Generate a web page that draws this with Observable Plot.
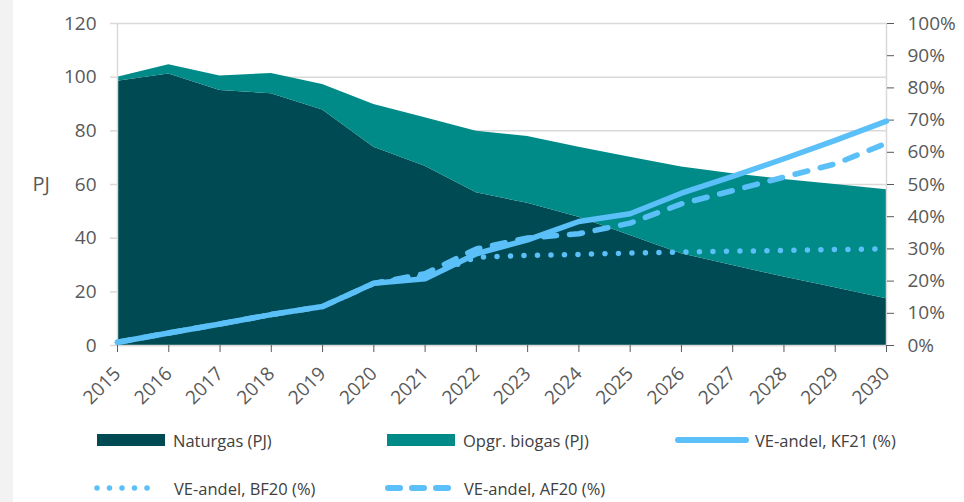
<!DOCTYPE html>
<html>
<head>
<meta charset="utf-8">
<script src="https://cdn.jsdelivr.net/npm/d3@7"></script>
<script src="https://cdn.jsdelivr.net/npm/@observablehq/plot@0.6"></script>
<style>
  html, body { margin: 0; padding: 0; background: #ffffff; }
  #wrap { position: relative; width: 964px; height: 502px; overflow: hidden; font-family: "Open Sans", "Noto Sans", sans-serif; color: #595959; }
  #strip { position: absolute; left: 0; top: 0; width: 13px; height: 502px; background: #f2f2f2; }
  #chart { position: absolute; left: 0; top: 0; }
  .leg { position: absolute; display: flex; align-items: center; font-size: 16.5px; color: #404040; white-space: nowrap; }
  .leg svg { display: block; margin-right: 6px; }
</style>
</head>
<body>
<div id="wrap">
  <div id="strip"></div>
  <div id="chart"></div>
  <div id="legend"></div>
</div>
<script>
const years = [2015, 2016, 2017, 2018, 2019, 2020, 2021, 2022, 2023, 2024, 2025, 2026, 2027, 2028, 2029, 2030];
const naturgas = [98.5, 101.2, 95.0, 93.8, 87.8, 73.9, 66.8, 56.9, 53.0, 47.8, 41.0, 34.2, 29.8, 25.5, 21.5, 17.4];
const biogas   = [1.5, 3.4, 5.4, 7.6, 9.5, 15.9, 18.1, 22.9, 24.9, 26.1, 29.2, 32.3, 34.2, 36.4, 38.5, 40.6];
const veKF21   = [1.0, 3.9, 6.7, 9.6, 12.1, 19.3, 20.7, 28.5, 32.8, 38.5, 40.9, 47.3, 52.5, 58.0, 63.7, 69.7];
const veBF20   = [1.0, 3.9, 6.7, 9.6, 12.1, 19.3, 21.5, 27.4, 28.0, 28.3, 28.7, 29.0, 29.3, 29.5, 29.8, 30.0];
const veAF20   = [1.0, 3.9, 6.7, 9.6, 12.1, 19.3, 22.3, 30.0, 33.4, 34.7, 38.0, 44.0, 48.1, 52.3, 56.4, 62.8];
const leftTicks = [0, 20, 40, 60, 80, 100, 120];
const rightTicks = [0, 10, 20, 30, 40, 50, 60, 70, 80, 90, 100];
const seriesNames = ["Naturgas (PJ)", "Opgr. biogas (PJ)", "VE-andel, KF21 (%)", "VE-andel, BF20 (%)", "VE-andel, AF20 (%)"];

const colNatur = "#004b53";
const colBio = "#008b89";
const colLine = "#5bbff8";
const gridCol = "#d9d9d9";
const textCol = "#595959";

// percent -> PJ axis scale factor (100% aligns with 120 PJ)
const pctScale = 120 / 100;

const rows = years.map((y, i) => ({
  year: y,
  natur: naturgas[i],
  total: naturgas[i] + biogas[i],
  kf21: veKF21[i] * pctScale,
  bf20: veBF20[i] * pctScale,
  af20: veAF20[i] * pctScale
}));

const chart = Plot.plot({
  width: 964,
  height: 420,
  marginLeft: 117,
  marginRight: 78,
  marginTop: 23,
  marginBottom: 75,
  style: { background: "transparent", fontFamily: "'Open Sans', 'Noto Sans', sans-serif", fontSize: "19px", color: textCol },
  x: { domain: [years[0], years[years.length - 1]] },
  y: { domain: [0, 120] },
  marks: [
    Plot.gridY(leftTicks, { stroke: gridCol, strokeOpacity: 1, strokeWidth: 1.5 }),
    Plot.areaY(rows, { x: "year", y1: 0, y2: "natur", fill: colNatur, curve: "linear" }),
    Plot.areaY(rows, { x: "year", y1: "natur", y2: "total", fill: colBio, curve: "linear" }),
    Plot.ruleX([years[0], years[years.length - 1]], { y1: 0, y2: 120, stroke: gridCol, strokeWidth: 1.5 }),
    Plot.ruleY([0], { stroke: gridCol, strokeWidth: 1.5 }),
    Plot.axisY({ anchor: "left", ticks: leftTicks, tickSize: 7, tickPadding: 14, stroke: gridCol, strokeWidth: 1.5, label: null, fontSize: 19, fill: textCol }),
    Plot.axisY({ anchor: "right", ticks: rightTicks.map(d => d * pctScale), tickFormat: d => Math.round(d / pctScale) + "%", tickSize: 7, tickPadding: 14, label: null, fontSize: 19, fill: textCol }),
    Plot.axisX({ ticks: years, tickFormat: d => String(d), tickRotate: -45, tickSize: 7, tickPadding: 18, label: null, fontSize: 19, fill: textCol }),
    Plot.line(rows, { x: "year", y: "bf20", stroke: colLine, strokeWidth: 5.5, strokeLinecap: "round", strokeDasharray: "0 13.5" }),
    Plot.line(rows, { x: "year", y: "af20", stroke: colLine, strokeWidth: 5.5, strokeLinecap: "round", strokeDasharray: "13 13" }),
    Plot.line(rows, { x: "year", y: "kf21", stroke: colLine, strokeWidth: 5.5, strokeLinejoin: "round" }),
    Plot.text(["PJ"], { frameAnchor: "left", dx: -85, fontSize: 20, fill: textCol, textAnchor: "start" })
  ]
});
document.getElementById("chart").appendChild(chart);

// Legend
const legend = document.getElementById("legend");
const legItems = [
  { name: seriesNames[0], type: "rect", color: colNatur, left: 97, top: 440 },
  { name: seriesNames[1], type: "rect", color: colBio, left: 387, top: 440 },
  { name: seriesNames[2], type: "solid", color: colLine, left: 675, top: 440 },
  { name: seriesNames[3], type: "dot", color: colLine, left: 94, top: 488 },
  { name: seriesNames[4], type: "dash", color: colLine, left: 384, top: 488 }
];
legItems.forEach(it => {
  const d = document.createElement("div");
  d.className = "leg";
  d.style.left = it.left + "px";
  d.style.top = (it.top - 12) + "px";
  let sw;
  if (it.type === "rect") {
    sw = `<svg width="70" height="24"><rect x="0" y="6" width="68" height="12" fill="${it.color}"/></svg>`;
  } else if (it.type === "solid") {
    sw = `<svg width="74" height="24"><line x1="3" y1="12" x2="71" y2="12" stroke="${it.color}" stroke-width="6" stroke-linecap="round"/></svg>`;
  } else if (it.type === "dot") {
    sw = `<svg width="74" height="24"><line x1="3" y1="12" x2="60" y2="12" stroke="${it.color}" stroke-width="5.5" stroke-linecap="round" stroke-dasharray="0 12.5"/></svg>`;
  } else {
    sw = `<svg width="74" height="24"><line x1="4" y1="12" x2="71" y2="12" stroke="${it.color}" stroke-width="6" stroke-linecap="round" stroke-dasharray="12 12"/></svg>`;
  }
  d.innerHTML = sw + `<span>${it.name}</span>`;
  legend.appendChild(d);
});
</script>
</body>
</html>
